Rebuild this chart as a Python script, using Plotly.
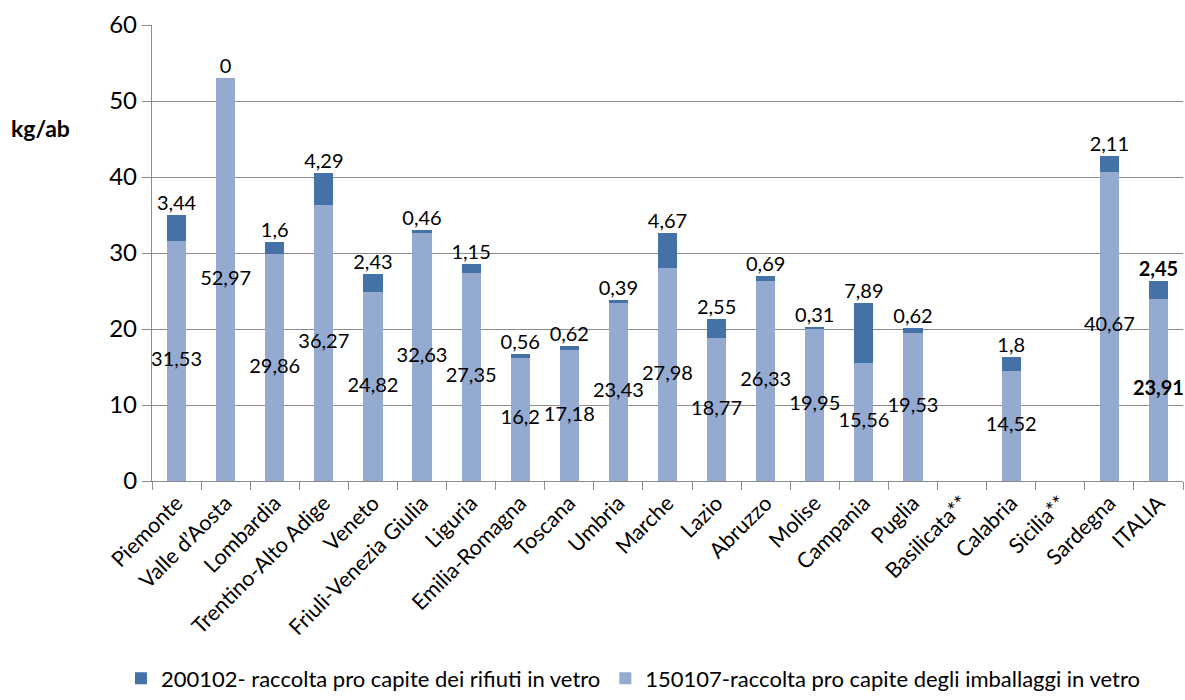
import plotly.graph_objects as go

categories = ["Piemonte", "Valle d’Aosta", "Lombardia", "Trentino-Alto Adige", "Veneto",
              "Friuli-Venezia Giulia", "Liguria", "Emilia-Romagna", "Toscana", "Umbria",
              "Marche", "Lazio", "Abruzzo", "Molise", "Campania", "Puglia", "Basilicata**",
              "Calabria", "Sicilia**", "Sardegna", "ITALIA"]

imballaggi_150107 = [31.53, 52.97, 29.86, 36.27, 24.82, 32.63, 27.35, 16.2, 17.18, 23.43,
                     27.98, 18.77, 26.33, 19.95, 15.56, 19.53, None, 14.52, None, 40.67, 23.91]
rifiuti_200102 = [3.44, 0, 1.6, 4.29, 2.43, 0.46, 1.15, 0.56, 0.62, 0.39,
                  4.67, 2.55, 0.69, 0.31, 7.89, 0.62, None, 1.8, None, 2.11, 2.45]

name_dark = "200102- raccolta pro capite dei rifiuti in vetro"
name_light = "150107-raccolta pro capite degli imballaggi in vetro"

DARK = "#4472A6"
LIGHT = "#94AAD1"
FONT = "Lato"
GRID = "#8C8C8C"


def fmt(v, bold):
    s = ("%g" % v).replace(".", ",")
    return "<b>%s</b>" % s if bold else s


fig = go.Figure()
fig.add_trace(go.Bar(x=categories, y=imballaggi_150107, name=name_light,
                     marker=dict(color=LIGHT, line=dict(width=0)), legendrank=2))
fig.add_trace(go.Bar(x=categories, y=rifiuti_200102, name=name_dark,
                     marker=dict(color=DARK, line=dict(width=0)), legendrank=1))

# labels
lx, ly, lt = [], [], []
tx, ty, tt = [], [], []
for c, a, b in zip(categories, imballaggi_150107, rifiuti_200102):
    if a is None:
        continue
    bold = c == "ITALIA"
    lx.append(c); ly.append(a / 2); lt.append(fmt(a, bold))
    tx.append(c); ty.append(a + b); tt.append(fmt(b, bold))

fig.add_trace(go.Scatter(x=lx, y=ly, text=lt, mode="text", textposition="middle center",
                         textfont=dict(family=FONT, size=20, color="#000"),
                         showlegend=False, hoverinfo="skip", cliponaxis=False))
fig.add_trace(go.Scatter(x=tx, y=ty, text=tt, mode="text", textposition="top center",
                         textfont=dict(family=FONT, size=20, color="#000"),
                         showlegend=False, hoverinfo="skip", cliponaxis=False))

fig.update_layout(
    width=1185, height=700,
    barmode="stack", bargap=0.61,
    plot_bgcolor="white", paper_bgcolor="white",
    margin=dict(l=152, r=2, t=25, b=218),
    font=dict(family=FONT, size=20, color="#000"),
    legend=dict(orientation="h", x=0.467, xanchor="center", y=-0.476, yanchor="bottom",
                font=dict(family=FONT, size=22), itemwidth=30, traceorder="normal"),
    annotations=[dict(text="<b>kg/ab</b>", xref="paper", yref="y", x=-0.078, y=46.5,
                      xanchor="right", yanchor="middle", showarrow=False,
                      font=dict(family=FONT, size=23))],
)
fig.update_yaxes(range=[0, 60], dtick=10, showgrid=True, gridcolor=GRID, gridwidth=1.3,
                 showline=True, linecolor=GRID, linewidth=1.3, ticks="outside", ticklen=9,
                 tickcolor=GRID, tickwidth=1.3, tickfont=dict(family=FONT, size=24),
                 zeroline=False, automargin=False)
fig.update_xaxes(range=[-0.5, len(categories) - 0.5],
                 showline=True, linecolor=GRID, linewidth=1.3, ticks="outside", ticklen=8,
                 tickcolor=GRID, tickwidth=1.3, tickson="boundaries", tickangle=-45,
                 tickfont=dict(family=FONT, size=21.5), showgrid=False, automargin=False)

fig.write_html("out.html", config={"displayModeBar": False},
               post_script="document.body.style.margin='0';document.body.style.overflow='hidden';")
